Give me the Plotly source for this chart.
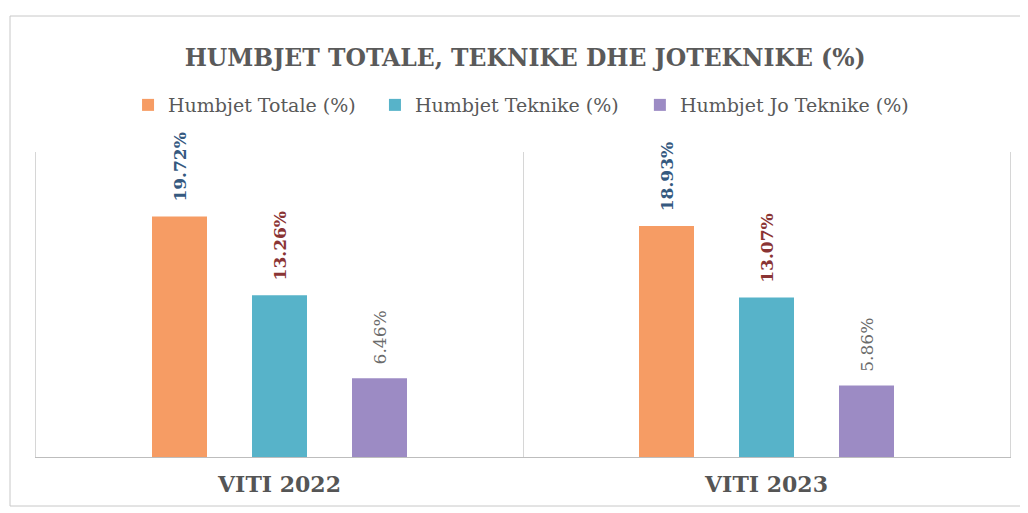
import plotly.graph_objects as go

categories = ["VITI 2022", "VITI 2023"]
series_names = ["Humbjet Totale (%)", "Humbjet Teknike (%)", "Humbjet Jo Teknike (%)"]
totale = [19.72, 18.93]
teknike = [13.26, 13.07]
joteknike = [6.46, 5.86]
title_text = "HUMBJET TOTALE, TEKNIKE DHE JOTEKNIKE (%)"

series_values = [totale, teknike, joteknike]
bar_colors = ["#F69C64", "#57B3C9", "#9C8BC4"]
label_colors = ["#35597F", "#8A3434", "#6A6A6A"]
label_weights = ["bold", "bold", "normal"]
legend_ids = ["legend", "legend2", "legend3"]
legend_x = [0.0945, 0.348, 0.620]

SERIF = "DejaVu Serif"
PAD = "\u00a0\u00a0"

W, H = 1020, 505  # page body margin of 8px is added by the browser

fig = go.Figure()
for i, (name, vals) in enumerate(zip(series_names, series_values)):
    fig.add_trace(go.Bar(
        name=name,
        x=categories,
        y=vals,
        marker=dict(color=bar_colors[i], line=dict(width=0)),
        text=[PAD + f"{v:.2f}%" for v in vals],
        textposition="outside",
        textangle=-90,
        constraintext="none",
        cliponaxis=False,
        textfont=dict(family=SERIF, size=17, color=label_colors[i], weight=label_weights[i]),
        legend=legend_ids[i],
        showlegend=True,
        hoverinfo="skip",
    ))

fig.update_layout(
    width=W, height=H,
    margin=dict(l=28, r=18, t=144, b=56),
    paper_bgcolor="white", plot_bgcolor="white",
    barmode="group",
    bargap=0.384,
    bargroupgap=0.45,
    showlegend=True,
    title=dict(text=title_text, x=0.507, xanchor="center", y=0.901, yanchor="middle",
               font=dict(family=SERIF, size=23.5, color="#5A5A5A", weight="bold")),
    xaxis=dict(
        tickson="boundaries", showgrid=True, gridcolor="#D6D6D6", gridwidth=1,
        showline=True, linecolor="#BDBDBD", linewidth=1.3,
        ticks="", ticklabelstandoff=7,
        tickfont=dict(family=SERIF, size=22, color="#555555", weight="bold"),
        range=[-0.5, 1.5],
    ),
    yaxis=dict(
        range=[0, 25], showgrid=False, zeroline=False, showticklabels=False,
        showline=True, mirror=True, linecolor="#D6D6D6", linewidth=1,
    ),
    shapes=[dict(type="rect", xref="paper", yref="paper",
                 x0=(10 - 36) / 974, x1=(1022 - 36) / 974,
                 y0=(457 - 506) / 305, y1=(457 - 16) / 305,
                 line=dict(color="#C8C8C8", width=1), fillcolor="rgba(0,0,0,0)", layer="below")],
)

for lid, lx in zip(legend_ids, legend_x):
    fig.update_layout({lid: dict(
        orientation="h", x=lx, xanchor="left", y=1.154, yanchor="middle",
        font=dict(family=SERIF, size=19, color="#595959"),
        bgcolor="rgba(0,0,0,0)", borderwidth=0, visible=True,
    )})

fig.write_html("out.html")
